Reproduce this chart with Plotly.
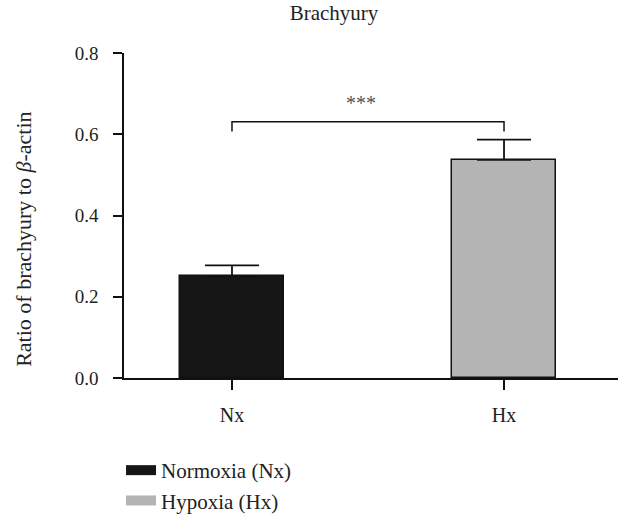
import plotly.graph_objects as go

categories = ["Nx", "Hx"]
series_names = ["Normoxia (Nx)", "Hypoxia (Hx)"]
values = [0.25, 0.537]
errors_up = [0.027, 0.05]
colors = ["#161616", "#b4b4b4"]
y_ticks = [0.0, 0.2, 0.4, 0.6, 0.8]
y_tick_labels = ["0.0", "0.2", "0.4", "0.6", "0.8"]
sig_label = "***"
sig_level = 0.631

FONT = "Liberation Serif"
TXT = "#222"
fig = go.Figure()
for i, name in enumerate(series_names):
    fig.add_trace(go.Bar(
        x=[i], y=[values[i]], name=name, width=0.382, showlegend=False,
        legendgroup=name,
        marker=dict(color=colors[i], line=dict(color="#111", width=1.5)),
        error_y=dict(type="data", array=[errors_up[i]], arrayminus=[0], symmetric=False,
                     color="#111", thickness=1.8, width=27),
    ))
# legend entries (30x10 swatches like the reference)
for i, name in enumerate(series_names):
    fig.add_trace(go.Scatter(
        x=[None], y=[None], mode="lines", name=name, legendgroup=name,
        line=dict(color=colors[i], width=10),
    ))

# significance bracket
fig.add_shape(type="path",
              path=f"M 0,{sig_level-0.024} L 0,{sig_level} L 1,{sig_level} L 1,{sig_level-0.024}",
              xref="x", yref="y", line=dict(color="#111", width=1.5))
fig.add_annotation(x=0.474, y=sig_level + 0.047, xref="x", yref="y", text=sig_label,
                   showarrow=False, font=dict(family=FONT, size=20, color="#555"))

# y-axis title (placed as in the reference, slightly below axis centre)
fig.add_annotation(x=(24 - 124) / 494, y=(380 - 241) / 327, xref="paper", yref="paper",
                   text="Ratio of brachyury to <i>β</i>-actin",
                   textangle=-90, showarrow=False, font=dict(family=FONT, size=22, color=TXT),
                   xanchor="center", yanchor="middle")

fig.update_layout(
    width=618, height=521,
    margin=dict(l=124, r=0, t=53, b=141),
    paper_bgcolor="white", plot_bgcolor="white",
    font=dict(family=FONT, size=19, color=TXT),
    title=dict(text="Brachyury", x=334 / 618, xanchor="center", y=1 - 13 / 521, yanchor="middle",
               font=dict(family=FONT, size=21, color=TXT)),
    bargap=0,
    xaxis=dict(range=[-0.397, 1.419], tickvals=[0, 1], ticktext=categories,
               showline=True, linecolor="#111", linewidth=1.5, ticks="outside",
               ticklen=10, tickwidth=1.5, tickcolor="#111", showgrid=False, zeroline=False,
               ticklabelstandoff=8, tickfont=dict(family=FONT, size=20, color=TXT)),
    yaxis=dict(range=[0, 0.8], tickvals=y_ticks, ticktext=y_tick_labels,
               showline=True, linecolor="#111", linewidth=1.5, ticks="outside",
               ticklen=9, tickwidth=1.5, tickcolor="#111", showgrid=False, zeroline=False,
               ticklabelstandoff=11, tickfont=dict(family=FONT, size=19, color=TXT)),
    legend=dict(x=-0.006, xanchor="left", y=-0.223, yanchor="top", orientation="v",
                font=dict(family=FONT, size=21, color=TXT), tracegroupgap=0,
                bgcolor="rgba(0,0,0,0)"),
)

fig.write_html("out.html", config={"displayModeBar": False},
               post_script="document.body.style.margin='0';")
